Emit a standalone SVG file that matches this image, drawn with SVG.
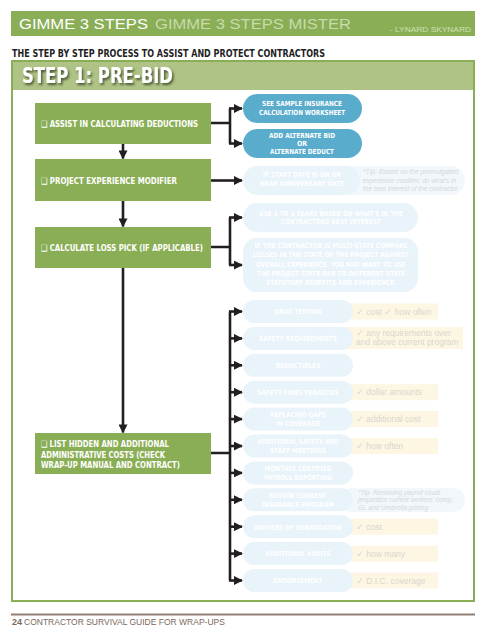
<svg xmlns="http://www.w3.org/2000/svg" width="491" height="641" viewBox="0 0 491 641">
<defs>
<marker id="ah" viewBox="0 0 10 10" refX="9" refY="5" markerWidth="9" markerHeight="9" markerUnits="userSpaceOnUse" orient="auto"><path d="M0,0 L10,5 L0,10 z" fill="#231f20"/></marker>
<filter id="sh" x="-10%" y="-30%" width="130%" height="180%"><feDropShadow dx="1.5" dy="2" stdDeviation="1.2" flood-color="#3a4a25" flood-opacity="0.85"/></filter>
<style>
.cond{font-family:"Liberation Sans Narrow","DejaVu Sans Condensed","Liberation Sans",sans-serif;font-weight:bold}
.gbox{fill:#8aae55}
.gt{fill:#ffffff;font-size:8.5px}
.bp{fill:#5aaccd}
.lp{fill:#e9f3fa}
.tip{fill:#f2f7fb}
.bg{fill:#fdf6e3}
.pt{fill:#ffffff;font-size:7px;text-anchor:middle}
.ck{font-family:"Liberation Sans",Arial,sans-serif;font-size:8.5px;fill:#d9d6cf}
.tt{font-family:"Liberation Sans",Arial,sans-serif;font-size:6.8px;font-style:italic;fill:#d4d8dc}
.ln{fill:none;stroke:#231f20;stroke-width:2.6}
</style>
</defs>
<rect width="491" height="641" fill="#ffffff"/>
<g id="banner">
<rect x="11" y="11" width="464" height="25" fill="#8aae55"/>
<text x="19" y="28.5" font-family="Liberation Sans,Arial,sans-serif" font-size="15.5" fill="#ffffff" textLength="129" lengthAdjust="spacingAndGlyphs">GIMME 3 STEPS</text>
<text x="155" y="28.5" font-family="Liberation Sans,Arial,sans-serif" font-size="15.5" fill="#c7dbab" textLength="196" lengthAdjust="spacingAndGlyphs">GIMME 3 STEPS MISTER</text>
<text x="390" y="32" font-family="Liberation Sans,Arial,sans-serif" font-size="7.5" fill="#cfe0b5" textLength="81" lengthAdjust="spacingAndGlyphs">- LYNARD SKYNARD</text>
</g>
<text class="cond" x="12" y="57" font-size="11" fill="#1f1f1f" textLength="313" lengthAdjust="spacingAndGlyphs">THE STEP BY STEP PROCESS TO ASSIST AND PROTECT CONTRACTORS</text>
<g id="frame">
<rect x="12" y="61" width="462" height="29" fill="#afc386"/>
<rect x="12" y="61" width="462" height="540" fill="none" stroke="#8aae55" stroke-width="2"/>
<text class="cond" x="22" y="82.5" font-size="22" fill="#ffffff" filter="url(#sh)" textLength="151" lengthAdjust="spacingAndGlyphs">STEP 1: PRE-BID</text>
</g>
<g id="footer">
<rect x="11" y="613.5" width="464" height="2" fill="#8f7f74"/>
<text x="12" y="625" font-family="Liberation Sans,Arial,sans-serif" font-size="8.5" fill="#7a685d"><tspan font-weight="bold" font-size="9">24</tspan><tspan dx="2">CONTRACTOR SURVIVAL GUIDE FOR WRAP-UPS</tspan></text>
</g>
<g id="connectors">
<path class="ln" d="M123,144 V158.5" marker-end="url(#ah)"/>
<path class="ln" d="M123,201 V226.5" marker-end="url(#ah)"/>
<path class="ln" d="M123,268 V432.5" marker-end="url(#ah)"/>
<path class="ln" d="M211,123 H230 M230,108.5 V143.5"/>
<path class="ln" d="M229,108.5 H242" marker-end="url(#ah)"/>
<path class="ln" d="M229,143.5 H242" marker-end="url(#ah)"/>
<path class="ln" d="M211,180.5 H242" marker-end="url(#ah)"/>
<path class="ln" d="M211,247 H230 M230,217.5 V265"/>
<path class="ln" d="M229,217.5 H242" marker-end="url(#ah)"/>
<path class="ln" d="M229,265 H242" marker-end="url(#ah)"/>
<path class="ln" d="M211,453 H230 M230,311.5 V580.5"/>
<path class="ln" d="M229,311.5 H242" marker-end="url(#ah)"/>
<path class="ln" d="M229,338.4 H242" marker-end="url(#ah)"/>
<path class="ln" d="M229,365.3 H242" marker-end="url(#ah)"/>
<path class="ln" d="M229,392.2 H242" marker-end="url(#ah)"/>
<path class="ln" d="M229,419.1 H242" marker-end="url(#ah)"/>
<path class="ln" d="M229,446 H242" marker-end="url(#ah)"/>
<path class="ln" d="M229,472.9 H242" marker-end="url(#ah)"/>
<path class="ln" d="M229,499.8 H242" marker-end="url(#ah)"/>
<path class="ln" d="M229,526.7 H242" marker-end="url(#ah)"/>
<path class="ln" d="M229,553.6 H242" marker-end="url(#ah)"/>
<path class="ln" d="M229,580.5 H242" marker-end="url(#ah)"/>
</g>
<g id="box-deductions">
<rect class="gbox" x="35" y="103" width="176" height="41"/>
<text class="cond gt" x="41" y="127" textLength="157" lengthAdjust="spacingAndGlyphs">❑ ASSIST IN CALCULATING DEDUCTIONS</text>
</g>
<g id="box-emod">
<rect class="gbox" x="35" y="159" width="176" height="42"/>
<text class="cond gt" x="41" y="183.5" textLength="136" lengthAdjust="spacingAndGlyphs">❑ PROJECT EXPERIENCE MODIFIER</text>
</g>
<g id="box-losspick">
<rect class="gbox" x="35" y="227" width="176" height="41"/>
<text class="cond gt" x="41" y="250.5" textLength="162" lengthAdjust="spacingAndGlyphs">❑ CALCULATE LOSS PICK (IF APPLICABLE)</text>
</g>
<g id="box-hidden">
<rect class="gbox" x="35" y="433" width="176" height="41"/>
<text class="cond gt" x="41" y="447" textLength="128" lengthAdjust="spacingAndGlyphs">❑ LIST HIDDEN AND ADDITIONAL</text>
<text class="cond gt" x="41" y="457.5" textLength="124" lengthAdjust="spacingAndGlyphs">ADMINISTRATIVE COSTS (CHECK</text>
<text class="cond gt" x="41" y="468" textLength="139" lengthAdjust="spacingAndGlyphs">WRAP-UP MANUAL AND CONTRACT)</text>
</g>
<g id="pill-sample">
<rect class="bp" x="243" y="94" width="119" height="29" rx="14.5"/>
<text class="cond pt" x="302" y="106" textLength="80" lengthAdjust="spacingAndGlyphs">SEE SAMPLE INSURANCE</text>
<text class="cond pt" x="302" y="115" textLength="86" lengthAdjust="spacingAndGlyphs">CALCULATION WORKSHEET</text>
</g>
<g id="pill-alternate">
<rect class="bp" x="243" y="129" width="119" height="29" rx="14.5"/>
<text class="cond pt" x="302" y="138" textLength="66" lengthAdjust="spacingAndGlyphs">ADD ALTERNATE BID</text>
<text class="cond pt" x="302" y="146">OR</text>
<text class="cond pt" x="302" y="154" textLength="64" lengthAdjust="spacingAndGlyphs">ALTERNATE DEDUCT</text>
</g>
<g id="pill-startdate">
<rect class="tip" x="340" y="166" width="125" height="29" rx="14.5"/>
<rect class="lp" x="243" y="166" width="117" height="29" rx="14.5"/>
<text class="cond pt" x="302" y="177" textLength="78" lengthAdjust="spacingAndGlyphs">IF START DATE IS ON OR</text>
<text class="cond pt" x="302" y="186" textLength="84" lengthAdjust="spacingAndGlyphs">NEAR ANNIVERSARY DATE</text>
<text class="tt" x="363" y="174" textLength="95" lengthAdjust="spacingAndGlyphs">*Tip- Based on the promulgated</text>
<text class="tt" x="363" y="182.5" textLength="93" lengthAdjust="spacingAndGlyphs">experience modifier, do what's in</text>
<text class="tt" x="363" y="191" textLength="95" lengthAdjust="spacingAndGlyphs">the best interest of the contractor</text>
</g>
<g id="pill-years">
<rect class="lp" x="243" y="203" width="175" height="29" rx="14.5"/>
<text class="cond pt" x="331" y="215.5" textLength="144" lengthAdjust="spacingAndGlyphs">USE 3 TO 5 YEARS BASED ON WHAT'S IN THE</text>
<text class="cond pt" x="331" y="224" textLength="100" lengthAdjust="spacingAndGlyphs">CONTRACTORS BEST INTEREST</text>
</g>
<g id="pill-multistate">
<rect class="lp" x="243" y="238" width="175" height="54" rx="14"/>
<text class="cond pt" x="331" y="248" textLength="153" lengthAdjust="spacingAndGlyphs">IF THE CONTRACTOR IS MULTI-STATE COMPARE</text>
<text class="cond pt" x="331" y="257" textLength="156" lengthAdjust="spacingAndGlyphs">LOSSES IN THE STATE OF THE PROJECT AGAINST</text>
<text class="cond pt" x="331" y="266.5" textLength="150" lengthAdjust="spacingAndGlyphs">OVERALL EXPERIENCE. YOU MAY WANT TO USE</text>
<text class="cond pt" x="331" y="276" textLength="148" lengthAdjust="spacingAndGlyphs">THE PROJECT STATE DUE TO DIFFERENT STATE</text>
<text class="cond pt" x="331" y="285" textLength="130" lengthAdjust="spacingAndGlyphs">STATUTORY BENEFITS AND EXPERIENCE.</text>
</g>
<g id="item-drug">
<rect class="bg" x="345" y="303.5" width="93" height="16"/>
<rect class="lp" x="243" y="300" width="110" height="23" rx="11.5"/>
<text class="cond pt" x="298" y="314" textLength="47" lengthAdjust="spacingAndGlyphs">DRUG TESTING</text>
<text class="ck" x="356" y="314.5">✓ cost  ✓ how often</text>
</g>
<g id="item-safety">
<rect class="bg" x="345" y="327" width="118" height="22"/>
<rect class="lp" x="243" y="327" width="110" height="23" rx="11.5"/>
<text class="cond pt" x="298" y="341" textLength="78" lengthAdjust="spacingAndGlyphs">SAFETY REQUIREMENTS</text>
<text class="ck" x="356" y="336">✓ any requirements over</text>
<text class="ck" x="356" y="344.5">and above current program</text>
</g>
<g id="item-deductibles">
<rect class="lp" x="243" y="353.8" width="110" height="23" rx="11.5"/>
<text class="cond pt" x="298" y="368" textLength="45" lengthAdjust="spacingAndGlyphs">DEDUCTIBLES</text>
</g>
<g id="item-fines">
<rect class="bg" x="345" y="384.2" width="93" height="16"/>
<rect class="lp" x="243" y="380.7" width="110" height="23" rx="11.5"/>
<text class="cond pt" x="298" y="395" textLength="81" lengthAdjust="spacingAndGlyphs">SAFETY FINES PENALTIES</text>
<text class="ck" x="356" y="395.3">✓ dollar amounts</text>
</g>
<g id="item-gaps">
<rect class="bg" x="345" y="411.1" width="93" height="16"/>
<rect class="lp" x="243" y="407.6" width="110" height="23" rx="11.5"/>
<text class="cond pt" x="298" y="417" textLength="56" lengthAdjust="spacingAndGlyphs">REPLACING GAPS</text>
<text class="cond pt" x="298" y="425.5" textLength="44" lengthAdjust="spacingAndGlyphs">IN COVERAGE</text>
<text class="ck" x="356" y="422.2">✓ additional cost</text>
</g>
<g id="item-meetings">
<rect class="bg" x="345" y="438" width="93" height="16"/>
<rect class="lp" x="243" y="434.5" width="110" height="23" rx="11.5"/>
<text class="cond pt" x="298" y="444" textLength="81" lengthAdjust="spacingAndGlyphs">ADDITIONAL SAFETY AND</text>
<text class="cond pt" x="298" y="452.5" textLength="56" lengthAdjust="spacingAndGlyphs">STAFF MEETINGS</text>
<text class="ck" x="356" y="449">✓ how often</text>
</g>
<g id="item-payroll">
<rect class="lp" x="243" y="461.4" width="110" height="23" rx="11.5"/>
<text class="cond pt" x="298" y="471" textLength="67" lengthAdjust="spacingAndGlyphs">MONTHLY CERTIFIED</text>
<text class="cond pt" x="298" y="479.5" textLength="68" lengthAdjust="spacingAndGlyphs">PAYROLL REPORTING</text>
</g>
<g id="item-review">
<rect class="tip" x="340" y="488" width="125" height="24" rx="12"/>
<rect class="lp" x="243" y="488.3" width="110" height="23" rx="11.5"/>
<text class="cond pt" x="298" y="498" textLength="57" lengthAdjust="spacingAndGlyphs">REVIEW CURRENT</text>
<text class="cond pt" x="298" y="506.5" textLength="72" lengthAdjust="spacingAndGlyphs">INSURANCE PROGRAM</text>
<text class="tt" x="358" y="494.5" textLength="82" lengthAdjust="spacingAndGlyphs">*Tip- Removing payroll could</text>
<text class="tt" x="358" y="502" textLength="95" lengthAdjust="spacingAndGlyphs">jeopardize current workers' comp,</text>
<text class="tt" x="358" y="509.5" textLength="70" lengthAdjust="spacingAndGlyphs">GL and Umbrella pricing</text>
</g>
<g id="item-waivers">
<rect class="bg" x="345" y="518.7" width="93" height="16"/>
<rect class="lp" x="243" y="515.2" width="110" height="23" rx="11.5"/>
<text class="cond pt" x="298" y="529.5" textLength="88" lengthAdjust="spacingAndGlyphs">WAIVERS OF SUBROGATION</text>
<text class="ck" x="356" y="529.8">✓ cost</text>
</g>
<g id="item-audits">
<rect class="bg" x="345" y="545.6" width="93" height="16"/>
<rect class="lp" x="243" y="542.1" width="110" height="23" rx="11.5"/>
<text class="cond pt" x="298" y="556.3" textLength="65" lengthAdjust="spacingAndGlyphs">ADDITIONAL AUDITS</text>
<text class="ck" x="356" y="556.7">✓ how many</text>
</g>
<g id="item-endorsement">
<rect class="bg" x="345" y="572.5" width="93" height="16"/>
<rect class="lp" x="243" y="569" width="110" height="23" rx="11.5"/>
<text class="cond pt" x="298" y="583.2" textLength="49" lengthAdjust="spacingAndGlyphs">ENDORSEMENT</text>
<text class="ck" x="356" y="583.6">✓ D.I.C. coverage</text>
</g>
</svg>
